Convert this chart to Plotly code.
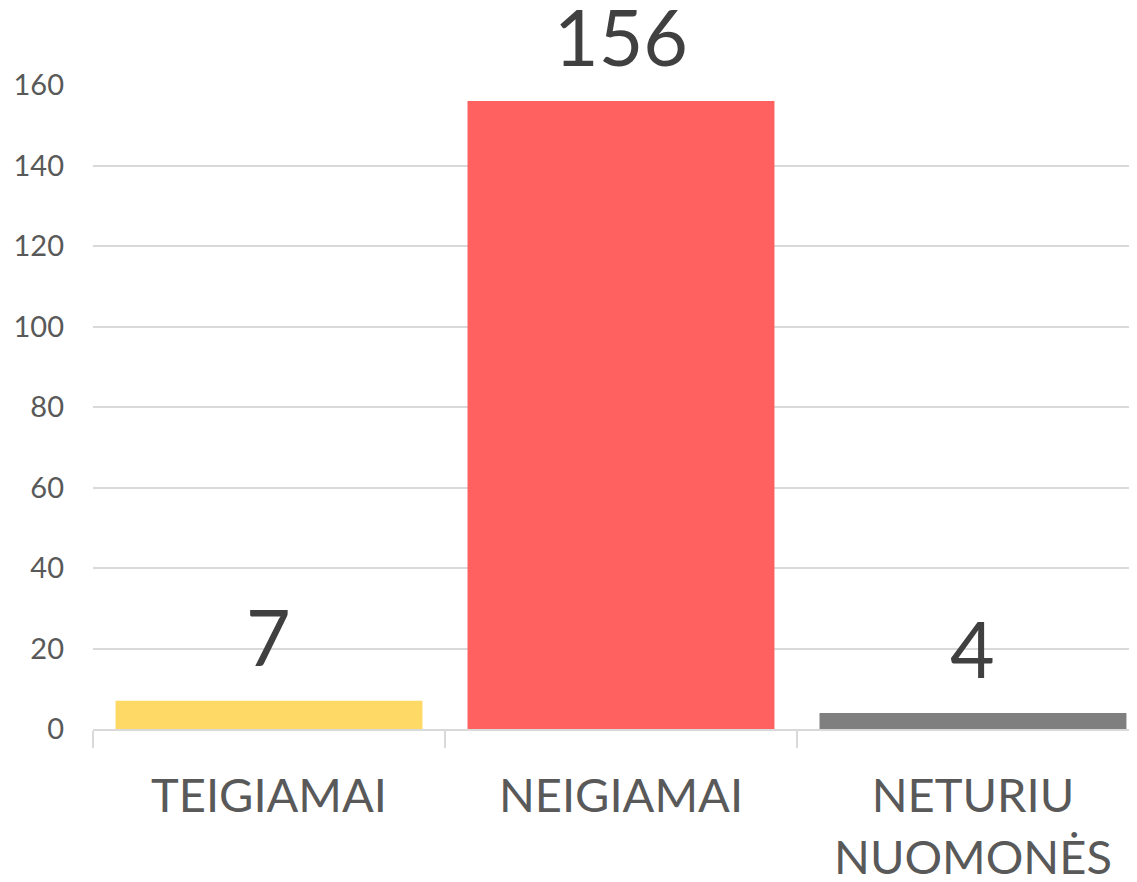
import plotly.graph_objects as go

categories = ["TEIGIAMAI", "NEIGIAMAI", "NETURIU<br>NUOMONĖS"]
values = [7, 156, 4]
colors = ["#FFD966", "#FF6161", "#7F7F7F"]

FONT = "Lato"
grid = "#D9D9D9"

fig = go.Figure()
fig.add_trace(go.Bar(x=categories, y=values, marker=dict(color=colors, line=dict(width=0)),
                     showlegend=False, hoverinfo="skip"))

# data labels sit well above the bars, like the excel original
for c, v in zip(categories, values):
    fig.add_annotation(x=c, y=v, text=str(v), showarrow=False, yanchor="bottom", yshift=17,
                       font=dict(family=FONT, size=77, color="#404040"))

# page body has an 8px margin, so the figure is shrunk by that much
fig.update_layout(
    width=1129, height=874,
    margin=dict(l=85, r=0, t=77, b=153),
    plot_bgcolor="white", paper_bgcolor="white",
    bargap=0.128,
    font=dict(family=FONT, color="#595959"),
)
fig.update_xaxes(
    range=[-0.5, 2.466], showline=True, linecolor=grid, linewidth=2,
    ticks="outside", tickson="boundaries", ticklen=17, tickcolor=grid, tickwidth=2,
    tickfont=dict(family=FONT, size=47, color="#595959"), ticklabelstandoff=25,
    showgrid=False, automargin=False,
)
fig.update_yaxes(
    range=[0, 160], dtick=20, showgrid=True, gridcolor=grid, gridwidth=2,
    zeroline=False, showline=False, ticks="",
    tickfont=dict(family=FONT, size=29, color="#595959"), ticklabelstandoff=28,
    automargin=False,
)

fig.write_html("out.html")
